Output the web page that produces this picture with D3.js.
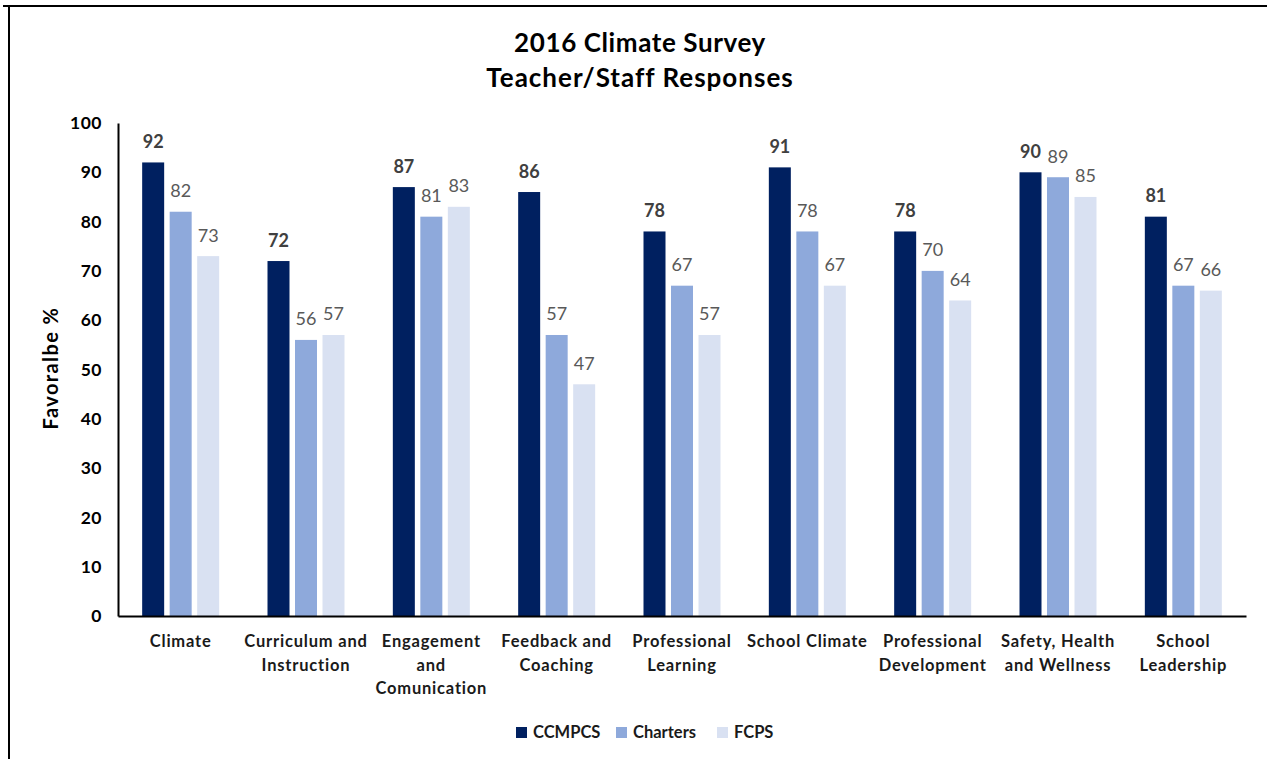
<!DOCTYPE html>
<html>
<head>
<meta charset="utf-8">
<script src="https://cdn.jsdelivr.net/npm/d3@7/dist/d3.min.js"></script>
<style>
  html, body { margin: 0; padding: 0; background: #fff; }
  svg { display: block; font-family: Lato, "Liberation Sans", sans-serif; }
</style>
</head>
<body>
<svg id="chart" width="1267" height="759"></svg>
<script>
// Survey categories (line breaks mark how each axis label wraps)
const categories = [
  "Climate",
  "Curriculum and\nInstruction",
  "Engagement\nand\nComunication",
  "Feedback and\nCoaching",
  "Professional\nLearning",
  "School Climate",
  "Professional\nDevelopment",
  "Safety, Health\nand Wellness",
  "School\nLeadership"
];
const seriesNames = ["CCMPCS", "Charters", "FCPS"];
const ccmpcs   = [92, 72, 87, 86, 78, 91, 78, 90, 81];
const charters = [82, 56, 81, 57, 67, 78, 70, 89, 67];
const fcps     = [73, 57, 83, 47, 57, 67, 64, 85, 66];
const yTicks   = [0, 10, 20, 30, 40, 50, 60, 70, 80, 90, 100];

const colors = { CCMPCS: "#002060", Charters: "#8EA9DB", FCPS: "#D9E1F2" };
const seriesValues = { CCMPCS: ccmpcs, Charters: charters, FCPS: fcps };

const svg = d3.select("#chart");
const W = 1267, H = 759;
const plot = { left: 118, right: 1246, top: 123, bottom: 616 };

// Frame around the figure
svg.append("line").attr("x1", 3).attr("x2", W).attr("y1", 6).attr("y2", 6)
  .attr("stroke", "#000").attr("stroke-width", 2);
svg.append("line").attr("x1", 9).attr("x2", 9).attr("y1", 5).attr("y2", H)
  .attr("stroke", "#000").attr("stroke-width", 2);

// Title
const title = svg.append("g").attr("font-size", 26).attr("font-weight", 700)
  .attr("fill", "#000").attr("text-anchor", "middle");
title.append("text").attr("x", 640).attr("y", 52).attr("letter-spacing", 0.6)
  .text("2016 Climate Survey");
title.append("text").attr("x", 640).attr("y", 87).attr("letter-spacing", 1.0)
  .text("Teacher/Staff Responses");

// Scales
const x0 = d3.scaleBand().domain(d3.range(categories.length))
  .range([plot.left, plot.right]).padding(0);
const groupW = 77;
const x1 = d3.scaleBand().domain(seriesNames).range([0, groupW]).paddingInner(0.2);
const y = d3.scaleLinear().domain([0, 100]).range([plot.bottom, plot.top]);

// Y axis
const yAxis = d3.axisLeft(y).tickValues(yTicks).tickSize(0).tickPadding(16);
const yg = svg.append("g").attr("transform", `translate(${plot.left},0)`).call(yAxis);
yg.select(".domain").attr("stroke", "#000").attr("stroke-width", 2);
yg.selectAll("text").attr("font-size", 17.5).attr("font-weight", 700)
  .attr("letter-spacing", 0.5)
  .attr("fill", "#000").attr("font-family", "Lato, 'Liberation Sans', sans-serif");

// Bars
const groups = svg.append("g").selectAll("g")
  .data(categories.map((c, i) => i))
  .join("g")
  .attr("transform", i => `translate(${x0(i) + (x0.bandwidth() - groupW) / 2},0)`);

groups.selectAll("rect")
  .data(i => seriesNames.map(s => ({ s, v: seriesValues[s][i] })))
  .join("rect")
  .attr("x", d => x1(d.s))
  .attr("width", x1.bandwidth())
  .attr("y", d => y(d.v))
  .attr("height", d => y(0) - y(d.v))
  .attr("fill", d => colors[d.s]);

// Value labels
groups.selectAll("text.val")
  .data(i => seriesNames.map(s => ({ s, v: seriesValues[s][i] })))
  .join("text")
  .attr("class", "val")
  .attr("x", d => x1(d.s) + x1.bandwidth() / 2)
  .attr("y", d => y(d.v) - 14.5)
  .attr("text-anchor", "middle")
  .attr("font-size", 18)
  .attr("font-weight", d => d.s === "CCMPCS" ? 700 : 400)
  .attr("fill", d => d.s === "CCMPCS" ? "#404040" : "#595959")
  .text(d => d.v);

// X axis baseline
const xAxis = d3.axisBottom(x0).tickSize(0).tickFormat("");
const xg = svg.append("g").attr("transform", `translate(0,${plot.bottom})`).call(xAxis);
xg.select(".domain").attr("stroke", "#000").attr("stroke-width", 2);

// Category labels
const catLabels = svg.append("g").selectAll("text")
  .data(categories)
  .join("text")
  .attr("x", (d, i) => x0(i) + x0.bandwidth() / 2)
  .attr("y", 647)
  .attr("text-anchor", "middle")
  .attr("font-size", 16.5)
  .attr("letter-spacing", 0.8)
  .attr("font-weight", 700)
  .attr("fill", "#1a1a1a");
catLabels.each(function(d) {
  const t = d3.select(this);
  d.split("\n").forEach((line, k) => {
    t.append("tspan").attr("x", t.attr("x")).attr("dy", k === 0 ? 0 : 23.7).text(line);
  });
});

// Y axis title
svg.append("text")
  .attr("transform", `translate(58,368) rotate(-90)`)
  .attr("text-anchor", "middle")
  .attr("font-size", 20).attr("font-weight", 700).attr("fill", "#000")
  .attr("letter-spacing", 1.4)
  .text("Favoralbe %");

// Legend
const legendX = [516, 616, 717];
const legend = svg.append("g").selectAll("g").data(seriesNames).join("g")
  .attr("transform", (d, i) => `translate(${legendX[i]},727)`);
legend.append("rect").attr("width", 11).attr("height", 11).attr("fill", d => colors[d]);
legend.append("text").attr("x", 17).attr("y", 11)
  .attr("font-size", 16.5).attr("font-weight", 700).attr("fill", "#1a1a1a")
  .text(d => d);
</script>
</body>
</html>
